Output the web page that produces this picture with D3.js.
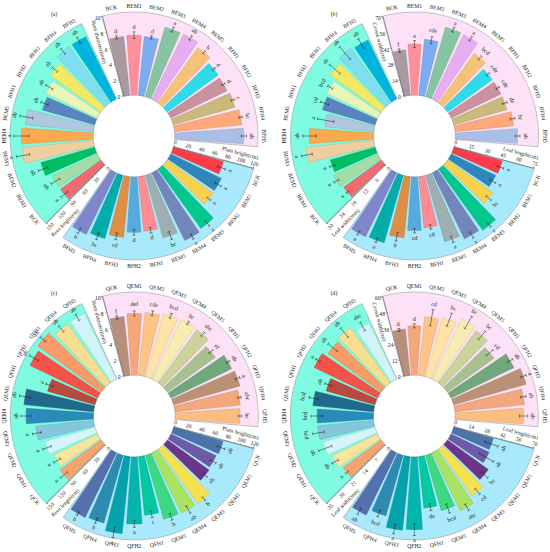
<!DOCTYPE html>
<html lang="en">
<head>
  <meta charset="UTF-8" />
  <title>polar bars</title>
  <script src="https://d3js.org/d3.v7.min.js"></script>
  <style>
    body { margin: 0; background: #fff; }
    text { font-family: "Liberation Serif", serif; fill: #222; }
  </style>
</head>
<body>
<script type="text/javascript">

const catsB = ["BCK", "BEM1", "BEM2", "BEM3", "BEM4", "BEM5", "BFH1", "BFH2", "BFH3", "BFH4", "BFH5"];
const catsQ = ["QCK", "QEM1", "QEM2", "QEM3", "QEM4", "QEM5", "QFH1", "QFH2", "QFH3", "QFH4", "QFH5"];

// (a)
const aStem = [7.2, 7.3, 7.2, 8.8, 8.8, 8.3, 7.7, 7.6, 7.8, 8.2, 8.4];
const aStemErr = [0.2, 0.4, 0.2, 0.3, 0.3, 0.2, 0.2, 0.2, 0.2, 0.2, 0.3];
const aStemSig = ["d", "d", "d", "a", "ab", "b", "d", "d", "c", "bc", "ab"];
const aHeight = [76, 82, 83, 107, 110, 95, 80, 81, 89, 96, 100];
const aHeightErr = [6, 5, 3, 5, 4, 6, 4, 4, 5, 5, 4];
const aHeightSig = ["a", "a", "a", "a", "a", "bc", "d", "d", "cd", "bc", "b"];
const aRoot = [91, 91, 102, 131, 131, 125, 99, 104, 114, 127, 127];
const aRootErr = [8, 9, 9, 12, 14, 12, 7, 7, 6, 6, 6];
const aRootSig = ["a", "ab", "ab", "a", "a", "ab", "ab", "ab", "ab", "ab", "ab"];

// (b)
const bCrown = [39, 43.5, 48, 61.5, 61, 52, 47, 47, 47, 50, 53];
const bCrownErr = [1.5, 3, 3, 2, 2, 2, 1.5, 1.5, 2, 2, 2];
const bCrownSig = ["f", "e", "cde", "a", "a", "bcd", "cde", "cde", "de", "bc", "ab"];
const bLength = [46, 45, 51, 69, 67, 63, 47, 49, 56, 64, 65];
const bLengthErr = [3, 3, 3, 2, 3, 3, 2, 2, 4, 2, 2];
const bLengthSig = ["a", "a", "bc", "a", "a", "a", "cd", "cd", "b", "a", "a"];
const bWidth = [17, 18, 17, 25, 23.4, 18, 20, 20.6, 23, 24.6, 24];
const bWidthErr = [0.5, 1, 1, 2, 2.5, 3, 1.5, 1, 2.5, 3, 2];
const bWidthSig = ["a", "a", "a", "a", "ab", "a", "cd", "bcd", "ab", "ab", "ab"];

// (c)
const cStem = [7.2, 7.5, 7.7, 8.0, 8.1, 8.0, 7.2, 8.2, 8.4, 8.0, 7.9];
const cStemErr = [0.2, 0.3, 0.3, 0.3, 0.2, 0.3, 0.3, 0.2, 0.3, 0.2, 0.2];
const cStemSig = ["f", "def", "cde", "bcd", "bc", "abc", "ef", "ab", "a", "abc", "bc"];
const cHeight = [75, 73, 75, 98, 98, 97, 86, 98, 113, 103, 105];
const cHeightErr = [6, 5, 4, 3, 6, 5, 5, 5, 8, 4, 3];
const cHeightSig = ["ab", "ab", "ab", "b", "ab", "b", "c", "a", "a", "b", "b"];
const cRoot = [93, 88, 95, 106, 123, 128, 90, 137, 143, 133, 133];
const cRootErr = [8, 7, 8, 8, 9, 10, 7, 9, 6, 7, 6];
const cRootSig = ["a", "a", "a", "a", "ab", "ab", "a", "ab", "ab", "ab", "ab"];

// (d)
const dCrown = [34, 36, 43, 45, 49, 47, 42, 51, 55, 51, 50];
const dCrownErr = [1, 1.5, 6, 5, 5, 4, 3, 2, 2, 2, 3];
const dCrownSig = ["d", "d", "cd", "bc", "bc", "bc", "cd", "ab", "a", "ab", "ab"];
const dLength = [35, 36, 43, 49, 55, 49, 44, 62, 63, 53.5, 59];
const dLengthErr = [6, 7, 4, 3, 3, 4, 3, 5, 4, 3, 3];
const dLengthSig = ["ab", "ab", "bc", "cd", "abc", "bcd", "de", "a", "a", "bcd", "ab"];
const dWidth = [20, 21.5, 23, 24, 24, 26, 21.6, 30, 28, 29, 26.6];
const dWidthErr = [0.7, 1.5, 3, 2.5, 2.5, 2, 1.5, 1, 2.5, 2.5, 2];
const dWidthSig = ["a", "ab", "ab", "bcd", "bcd", "bcd", "ab", "a", "ab", "ab", "abc"];

// tick labels
const ticks10 = [0, 2, 4, 6, 8, 10];
const ticks120 = [0, 20, 40, 60, 80, 100, 120];
const ticks150 = [0, 30, 60, 90, 120, 150];
const ticks70 = [0, 14, 28, 42, 56, 70];
const ticks75 = [0, 15, 30, 45, 60, 75];
const ticks30 = [0, 6, 12, 18, 24, 30];
const ticks60 = [0, 12, 24, 36, 48, 60];
const ticks35 = [0, 7, 14, 21, 28, 35];

// colours, one list per ring sector
const colorsB1 = ["#a99aa0", "#ff8f9b", "#7cadf0", "#86c4a4", "#e6aef0", "#f6c278", "#2cdce8", "#c9929f", "#c9b97a", "#fda97b", "#a9bfe6"];
const colorsB2 = ["#ff3b4a", "#2e87b8", "#f9d24b", "#04c78d", "#7286ba", "#9faeb0", "#ff8c94", "#58aadd", "#dc8f45", "#04ada9", "#7f86cc"];
const colorsB3 = ["#f06a6f", "#a6dca5", "#03bd64", "#edcfa0", "#fea94e", "#afc8e0", "#5a83bf", "#e9f5b6", "#f4e964", "#7fdff0", "#00b4e0"];
const colorsQ1 = ["#b8907a", "#f4a87a", "#fcc586", "#fde3a7", "#f6edb0", "#cbd39a", "#a7c08f", "#6fa97b", "#bb9176", "#f2a77d", "#f9be80"];
const colorsQ2 = ["#4c74a8", "#6e5aa8", "#6d3589", "#f5e04f", "#a9e35f", "#3dd882", "#03c9a3", "#04b5ae", "#03a2ad", "#2d8bb0", "#5470ad"];
const colorsQ3 = ["#f7a36f", "#f9e59c", "#d6f5fa", "#85c6dc", "#2a8bbb", "#21688c", "#b94a3f", "#f5524a", "#f89b66", "#f8de90", "#d2f3f7"];

const sectorFill = ["#fde2f7", "#a9e9fc", "#7efbe0"];
const sectorStart = [-15, 105, 225];
const SPAN = 110;
const R0 = 41, R1 = 123;
const rad = d => d * Math.PI / 180;

const svg = d3.select("body").append("svg")
    .attr("width", 550)
    .attr("height", 552);

// flip text on the lower half so it stays readable
const flip = a => (a > 90 && a < 270) ? a - 180 : a;

function sector(g, start, fill, cats, values, errs, sig, colors, ticks, title, tickRot, titleRot, titleR, titleOff) {
    const r = d3.scaleLinear().domain([0, d3.max(ticks)]).range([R0, R1]);
    const ang = d3.scaleBand().domain(cats).range([start, start + SPAN]).paddingInner(0.18).paddingOuter(0.09);
    const mid = c => ang(c) + ang.bandwidth() / 2;
    const rows = cats.map((c, i) => ({ c: c, v: values[i], e: errs[i], s: sig[i], col: colors[i] }));

    g.append("path")
        .attr("d", d3.arc()({ innerRadius: R0, outerRadius: R1 + 1, startAngle: rad(start), endAngle: rad(start + SPAN) }))
        .attr("fill", fill)
        .attr("stroke", "#8d8a92")
        .attr("stroke-width", 0.5);

    g.selectAll(".bar").data(rows).enter().append("path")
        .attr("d", d => d3.arc()({
            innerRadius: R0, outerRadius: r(d.v),
            startAngle: rad(ang(d.c)), endAngle: rad(ang(d.c) + ang.bandwidth())
        }))
        .attr("fill", d => d.col)
        .attr("stroke", d => d3.color(d.col).darker(0.6))
        .attr("stroke-width", 0.4);

    // error bars and letters live in a frame turned to the bar's angle
    const eb = g.selectAll(".err").data(rows).enter().append("g")
        .attr("transform", d => `rotate(${mid(d.c)})`);
    eb.append("line")
        .attr("y1", d => -r(d.v - d.e)).attr("y2", d => -r(d.v + d.e))
        .attr("stroke", "#222").attr("stroke-width", 0.5);
    eb.append("line")
        .attr("x1", -1.5).attr("x2", 1.5)
        .attr("y1", d => -r(d.v + d.e)).attr("y2", d => -r(d.v + d.e))
        .attr("stroke", "#222").attr("stroke-width", 0.5);
    eb.append("line")
        .attr("x1", -1.5).attr("x2", 1.5)
        .attr("y1", d => -r(d.v - d.e)).attr("y2", d => -r(d.v - d.e))
        .attr("stroke", "#222").attr("stroke-width", 0.5);

    const place = (a, rr, rot) => {
        const x = rr * Math.sin(rad(a)), y = -rr * Math.cos(rad(a));
        return `translate(${x},${y}) rotate(${rot})`;
    };

    g.selectAll(".sig").data(rows).enter().append("text")
        .attr("transform", d => place(mid(d.c), r(d.v + d.e) + 3.5 + d.s.length, flip(mid(d.c))))
        .attr("text-anchor", "middle").attr("dy", "0.32em")
        .attr("font-size", 6)
        .text(d => d.s);

    g.selectAll(".cat").data(rows).enter().append("text")
        .attr("transform", d => place(mid(d.c), 130, flip(mid(d.c))))
        .attr("text-anchor", "middle").attr("dy", "0.32em")
        .attr("font-size", 5.6)
        .text(d => d.c);

    // value axis along the sector's leading edge
    const axis = g.append("g")
        .attr("transform", `rotate(${start - 90})`)
        .call(d3.axisTop(r).tickValues(ticks).tickSize(1.2).tickFormat(d3.format("d")));
    axis.select(".domain").attr("stroke", "#555").attr("stroke-width", 0.5);
    axis.selectAll(".tick line").attr("stroke", "#555").attr("stroke-width", 0.4);
    axis.selectAll(".tick text")
        .attr("y", 0).attr("dy", null)
        .attr("transform", `translate(0,-4.6) rotate(${tickRot - start + 90})`)
        .attr("text-anchor", "middle")
        .attr("dominant-baseline", "central")
        .attr("font-family", null)
        .attr("font-size", 5.6);
    axis.attr("font-family", null).attr("font-size", null);

    const offA = start - Math.atan2(titleOff, titleR) * 180 / Math.PI;
    const rr = Math.hypot(titleOff, titleR);
    g.append("text")
        .attr("transform", place(offA, rr, titleRot))
        .attr("text-anchor", "middle").attr("dy", "0.32em")
        .attr("font-size", 5.6)
        .text(title);
}

function panel(cx, cy, tag, tagX, tagY, cats, rows) {
    const g = svg.append("g").attr("transform", `translate(${cx},${cy})`);
    rows.forEach((p, i) => {
        sector(g, sectorStart[i], sectorFill[i], cats, p[0], p[1], p[2], p[3], p[4], p[5], [0, 15, -45][i], [75, 15, -45][i], [100, 107, 110][i], [9.5, 11, 12.5][i]);
    });
    svg.append("text").attr("x", tagX).attr("y", tagY)
        .attr("text-anchor", "middle").attr("dy", "0.32em").attr("font-size", 5.6).text(tag);
}

panel(134, 136, "(a)", 54, 14, catsB, [
    [aStem, aStemErr, aStemSig, colorsB1, ticks10, "Stem diameter(mm)"],
    [aHeight, aHeightErr, aHeightSig, colorsB2, ticks120, "Plant height(cm)"],
    [aRoot, aRootErr, aRootSig, colorsB3, ticks150, "Root length(cm)"]
]);
panel(414.5, 136, "(b)", 334, 14, catsB, [
    [bCrown, bCrownErr, bCrownSig, colorsB1, ticks70, "Crown width(cm)"],
    [bLength, bLengthErr, bLengthSig, colorsB2, ticks75, "Leaf length(cm)"],
    [bWidth, bWidthErr, bWidthSig, colorsB3, ticks30, "Leaf width(mm)"]
]);
panel(134.3, 416, "(c)", 54, 293, catsQ, [
    [cStem, cStemErr, cStemSig, colorsQ1, ticks10, "Stem diameter(mm)"],
    [cHeight, cHeightErr, cHeightSig, colorsQ2, ticks120, "Plant height(cm)"],
    [cRoot, cRootErr, cRootSig, colorsQ3, ticks150, "Root length(cm)"]
]);
panel(414.3, 416, "(d)", 334, 293, catsQ, [
    [dCrown, dCrownErr, dCrownSig, colorsQ1, ticks60, "Crown width(cm)"],
    [dLength, dLengthErr, dLengthSig, colorsQ2, ticks70, "Leaf length(cm)"],
    [dWidth, dWidthErr, dWidthSig, colorsQ3, ticks35, "Leaf width(mm)"]
]);

</script>
</body>
</html>
